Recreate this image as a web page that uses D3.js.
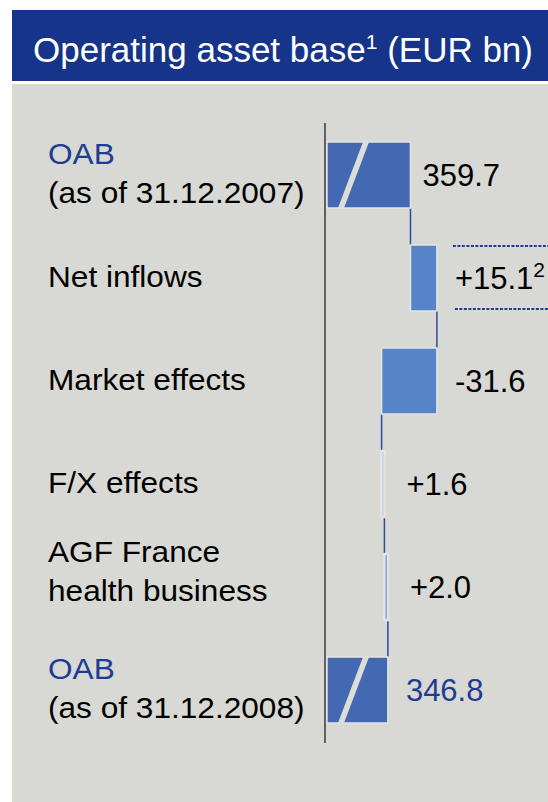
<!DOCTYPE html>
<html>
<head>
<meta charset="utf-8">
<script src="https://cdn.jsdelivr.net/npm/d3@7"></script>
<style>
  body { margin: 0; background: #fff; }
  svg { display: block; font-family: "Liberation Sans", Arial, sans-serif; }
</style>
</head>
<body>
<div id="chart"></div>
<script>
// chart data
var categories = ["oab07", "inflows", "market", "fx", "agf", "oab08"];
var labelLines = [["OAB", "(as of 31.12.2007)"], ["Net inflows"], ["Market effects"], ["F/X effects"], ["AGF France", "health business"], ["OAB", "(as of 31.12.2008)"]];
var values = [359.7, 15.1, -31.6, 1.6, 2.0, 346.8];
var kinds = ["total", "delta", "delta", "delta", "delta", "total"];
var valueLabels = ["359.7", "+15.1", "-31.6", "+1.6", "+2.0", "346.8"];
var footnotes = ["", "2", "", "", "", ""];

var width = 548, height = 802;
var blueDark = "#15348a", blueText = "#1f3c93";

var svg = d3.select("#chart").append("svg")
    .attr("width", width)
    .attr("height", height);

// header + panel
svg.append("rect").attr("x", 12).attr("y", 10).attr("width", width - 12).attr("height", 71).attr("fill", blueDark);
var title = svg.append("text").attr("x", 33).attr("y", 62).attr("fill", "#fff").style("font-size", "35px");
title.append("tspan").text("Operating asset base");
title.append("tspan").attr("dy", -13).style("font-size", "21px").text("1");
title.append("tspan").attr("dy", 13).text(" (EUR bn)");

svg.append("rect").attr("x", 12).attr("y", 84).attr("width", width - 12).attr("height", height - 84).attr("fill", "#d8d8d4");

// scales
var x = d3.scaleLinear().domain([312, 372]).range([327, 432]);
var y = d3.scalePoint().domain(categories).range([175, 690]);
var barH = 66;

// running totals
var rows = [];
var run = 0;
categories.forEach(function(c, i){
    var start, end;
    if (kinds[i] === "total") { start = 312; end = values[i]; run = values[i]; }
    else { start = run; end = run + values[i]; run = end; }
    rows.push({id: c, i: i, start: start, end: end, kind: kinds[i]});
});

// axis line
svg.append("line")
    .attr("x1", 325).attr("x2", 325)
    .attr("y1", 123).attr("y2", 743)
    .attr("stroke", "#111").attr("stroke-width", 1.2);

// connectors
for (var k = 0; k < rows.length - 1; k++) {
    var cx = x(rows[k].end);
    svg.append("line")
        .attr("x1", cx).attr("x2", cx)
        .attr("y1", y(rows[k].id) + barH / 2)
        .attr("y2", y(rows[k + 1].id) - barH / 2)
        .attr("stroke", "#2d4c9e").attr("stroke-width", 1.5);
}

// bars
svg.selectAll("rect.bar").data(rows).enter()
    .append("rect")
    .attr("class", "bar")
    .attr("x", function(d){ return x(Math.min(d.start, d.end)); })
    .attr("width", function(d){ return Math.abs(x(d.end) - x(d.start)); })
    .attr("y", function(d){ return y(d.id) - barH / 2; })
    .attr("height", barH)
    .attr("fill", function(d){ return d.kind === "total" ? "#4269b1" : "#5585c8"; })
    .attr("stroke", "#e4e4e2")
    .attr("stroke-width", function(d){ return Math.abs(d.end - d.start) < 5 ? 2.5 : 1.5; });

// axis break slashes on totals
svg.selectAll("path.brk").data(rows.filter(function(d){ return d.kind === "total"; })).enter()
    .append("path")
    .attr("class", "brk")
    .attr("d", function(d){
        var x0 = x(d.start), yt = y(d.id) - barH / 2, yb = y(d.id) + barH / 2;
        return "M" + (x0 + 11) + "," + yb + "L" + (x0 + 17) + "," + yb +
               "L" + (x0 + 42) + "," + yt + "L" + (x0 + 36) + "," + yt + "Z";
    })
    .attr("fill", "#dcdcd8");

// category labels
rows.forEach(function(d){
    var lines = labelLines[d.i];
    var base;
    if (lines.length === 1) base = y(d.id) + 9;
    else base = y(d.id) + (d.kind === "total" ? -11 : -25);
    lines.forEach(function(t, j){
        svg.append("text")
            .attr("transform", "translate(48," + (base + j * 39) + ") scale(1.09,1)")
            .attr("fill", (d.kind === "total" && j === 0) ? blueText : "#000")
            .style("font-size", "29px")
            .text(t);
    });
});

// value labels
rows.forEach(function(d){
    var off = d.i === 0 ? 12 : (Math.abs(values[d.i]) < 5 ? 22 : 18);
    var t = svg.append("text")
        .attr("x", x(Math.max(d.start, d.end)) + off)
        .attr("y", y(d.id) + 11)
        .attr("fill", d.i === rows.length - 1 ? blueText : "#000")
        .style("font-size", "31px");
    t.append("tspan").text(valueLabels[d.i]);
    if (footnotes[d.i]) {
        t.append("tspan").attr("dy", -12).style("font-size", "21px").text(footnotes[d.i]);
    }
});

// dotted bracket lines around net inflows label
var inflow = rows[1];
[y(inflow.id) - barH / 2 + 1, y(inflow.id) + barH / 2 - 2].forEach(function(yy, j){
    svg.append("line")
        .attr("x1", x(inflow.end) + 16 + j * 2).attr("x2", width)
        .attr("y1", yy).attr("y2", yy)
        .attr("stroke", blueText).attr("stroke-width", 2)
        .attr("stroke-dasharray", "3,1.5");
});
</script>
</body>
</html>
